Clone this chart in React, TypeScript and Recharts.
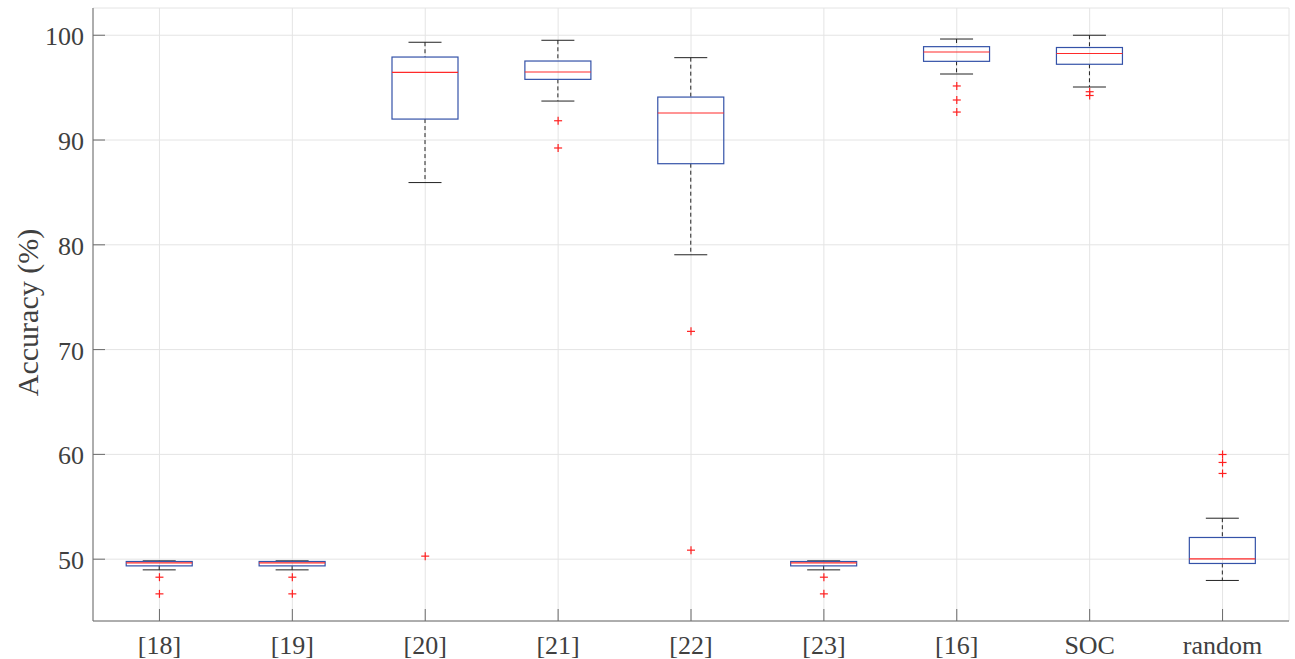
import React from 'react';
import { ComposedChart, Bar, Scatter, XAxis, YAxis, CartesianGrid, Label } from 'recharts';

// group labels along the x axis
const categories = ['[18]', '[19]', '[20]', '[21]', '[22]', '[23]', '[16]', 'SOC', 'random'];

// box plot statistics, accuracy in %
const lowerWhisker = [48.98, 48.98, 85.94, 93.72, 79.05, 48.98, 96.3, 95.06, 47.97];
const q1 = [49.36, 49.36, 92.0, 95.79, 87.74, 49.36, 97.51, 97.23, 49.59];
const median = [49.65, 49.65, 96.45, 96.49, 92.58, 49.65, 98.4, 98.26, 50.03];
const q3 = [49.78, 49.78, 97.92, 97.54, 94.1, 49.78, 98.91, 98.83, 52.07];
const upperWhisker = [49.84, 49.84, 99.33, 99.52, 97.86, 49.84, 99.64, 100.0, 53.91];

// outliers (up to three per group)
const outlier1 = [48.28, 48.28, 50.29, 91.84, 71.74, 48.28, 95.16, 94.61, 59.99];
const outlier2 = [46.69, 46.69, null, 89.24, 50.86, 46.69, 93.82, 94.25, 59.23];
const outlier3 = [null, null, null, null, null, null, 92.67, null, 58.18];

const yTicks = [50, 60, 70, 80, 90, 100];

const data = categories.map((name, i) => ({
  name,
  range: [lowerWhisker[i], upperWhisker[i]],
  lw: lowerWhisker[i],
  q1: q1[i],
  med: median[i],
  q3: q3[i],
  uw: upperWhisker[i],
  o1: outlier1[i],
  o2: outlier2[i],
  o3: outlier3[i],
}));

const FONT = '"Liberation Serif", "Times New Roman", serif';
const AXIS = '#6b6b6b';
const TEXT = '#404040';
const TICK = 12;

const BoxShape = (props: any) => {
  const { x, y, width, height, payload } = props;
  if (x == null || y == null) return <g />;
  const top = Math.min(y, y + height);
  const bottom = Math.max(y, y + height);
  const span = payload.uw - payload.lw;
  const py = (v: number) => top + ((bottom - top) * (payload.uw - v)) / span;
  const cx = x + width / 2;
  const cap = width / 4;
  return (
    <g>
      <line x1={cx} x2={cx} y1={top} y2={py(payload.q3)} stroke="#222" strokeDasharray="4 3" />
      <line x1={cx} x2={cx} y1={py(payload.q1)} y2={bottom} stroke="#222" strokeDasharray="4 3" />
      <line x1={cx - cap} x2={cx + cap} y1={top} y2={top} stroke="#222" />
      <line x1={cx - cap} x2={cx + cap} y1={bottom} y2={bottom} stroke="#222" />
      <rect x={x} y={py(payload.q3)} width={width} height={py(payload.q1) - py(payload.q3)} fill="none" stroke="#3452a8" strokeWidth={1.2} />
      <line x1={x} x2={x + width} y1={py(payload.med)} y2={py(payload.med)} stroke="#ff2a2a" strokeWidth={1.2} />
    </g>
  );
};

const Plus = (props: any) => {
  const { cx, cy } = props;
  if (cx == null || cy == null || isNaN(cx) || isNaN(cy)) return <g />;
  return (
    <g stroke="#ff2020" strokeWidth={1.2}>
      <line x1={cx - 4} x2={cx + 4} y1={cy} y2={cy} />
      <line x1={cx} x2={cx} y1={cy - 4} y2={cy + 4} />
    </g>
  );
};

const LeftTick = (props: any) => {
  const { x, y, payload } = props;
  return (
    <g>
      <line x1={x} x2={x + TICK} y1={y} y2={y} stroke={AXIS} />
      <text x={x - 9} y={y} dy={10} textAnchor="end" fontFamily={FONT} fontSize={26} fill={TEXT}>
        {payload.value}
      </text>
    </g>
  );
};

const BottomTick = (props: any) => {
  const { x, y, payload } = props;
  return (
    <g>
      <line x1={x} x2={x} y1={y} y2={y - TICK} stroke={AXIS} />
      <text x={x} y={y + 33} textAnchor="middle" fontFamily={FONT} fontSize={26} fill={TEXT}>
        {payload.value}
      </text>
    </g>
  );
};

const TopTick = (props: any) => {
  const { x, y } = props;
  return <line x1={x} x2={x} y1={y} y2={y + TICK} stroke={AXIS} />;
};

const RightTick = (props: any) => {
  const { x, y } = props;
  return <line x1={x - TICK} x2={x} y1={y} y2={y} stroke={AXIS} />;
};

const YLabel = (props: any) => {
  const vb = props.viewBox || { x: 13, y: 8, width: 80, height: 613 };
  const cx = 27;
  const cy = vb.y + vb.height / 2 - 2;
  return (
    <text x={cx} y={cy} transform={`rotate(-90, ${cx}, ${cy})`} textAnchor="middle" dominantBaseline="central" fontFamily={FONT} fontSize={30} fill={TEXT}>
      Accuracy (%)
    </text>
  );
};

export default function App() {
  return (
    <div style={{ position: 'absolute', left: 0, top: 0, width: 1295, height: 659, background: '#fff' }}>
      <ComposedChart
        width={1295}
        height={659}
        data={data}
        margin={{ top: 8, right: 6, bottom: 0, left: 13 }}
        barCategoryGap="25%"
      >
        <CartesianGrid stroke="#e4e4e4" />
        <XAxis dataKey="name" height={38} axisLine={{ stroke: AXIS }} tickLine={false} tickSize={0} tickMargin={0} tick={<BottomTick />} interval={0} />
        <XAxis xAxisId="top" dataKey="name" orientation="top" height={0} axisLine={{ stroke: AXIS }} tickLine={false} tickSize={0} tickMargin={0} tick={<TopTick />} interval={0} />
        <YAxis
          type="number"
          domain={[44.1, 102.6]}
          ticks={yTicks}
          allowDataOverflow
          width={80}
          axisLine={{ stroke: AXIS }}
          tickLine={false}
          tickSize={0}
          tickMargin={0}
          tick={<LeftTick />}
          interval={0}
        >
          <Label content={<YLabel />} />
        </YAxis>
        <YAxis
          yAxisId="right"
          orientation="right"
          type="number"
          domain={[44.1, 102.6]}
          ticks={yTicks}
          allowDataOverflow
          width={0}
          axisLine={{ stroke: AXIS }}
          tickLine={false}
          tickSize={0}
          tickMargin={0}
          tick={<RightTick />}
          interval={0}
        />
        <Bar dataKey="range" shape={<BoxShape />} isAnimationActive={false} />
        <Scatter dataKey="o1" shape={<Plus />} isAnimationActive={false} />
        <Scatter dataKey="o2" shape={<Plus />} isAnimationActive={false} />
        <Scatter dataKey="o3" shape={<Plus />} isAnimationActive={false} />
      </ComposedChart>
    </div>
  );
}
